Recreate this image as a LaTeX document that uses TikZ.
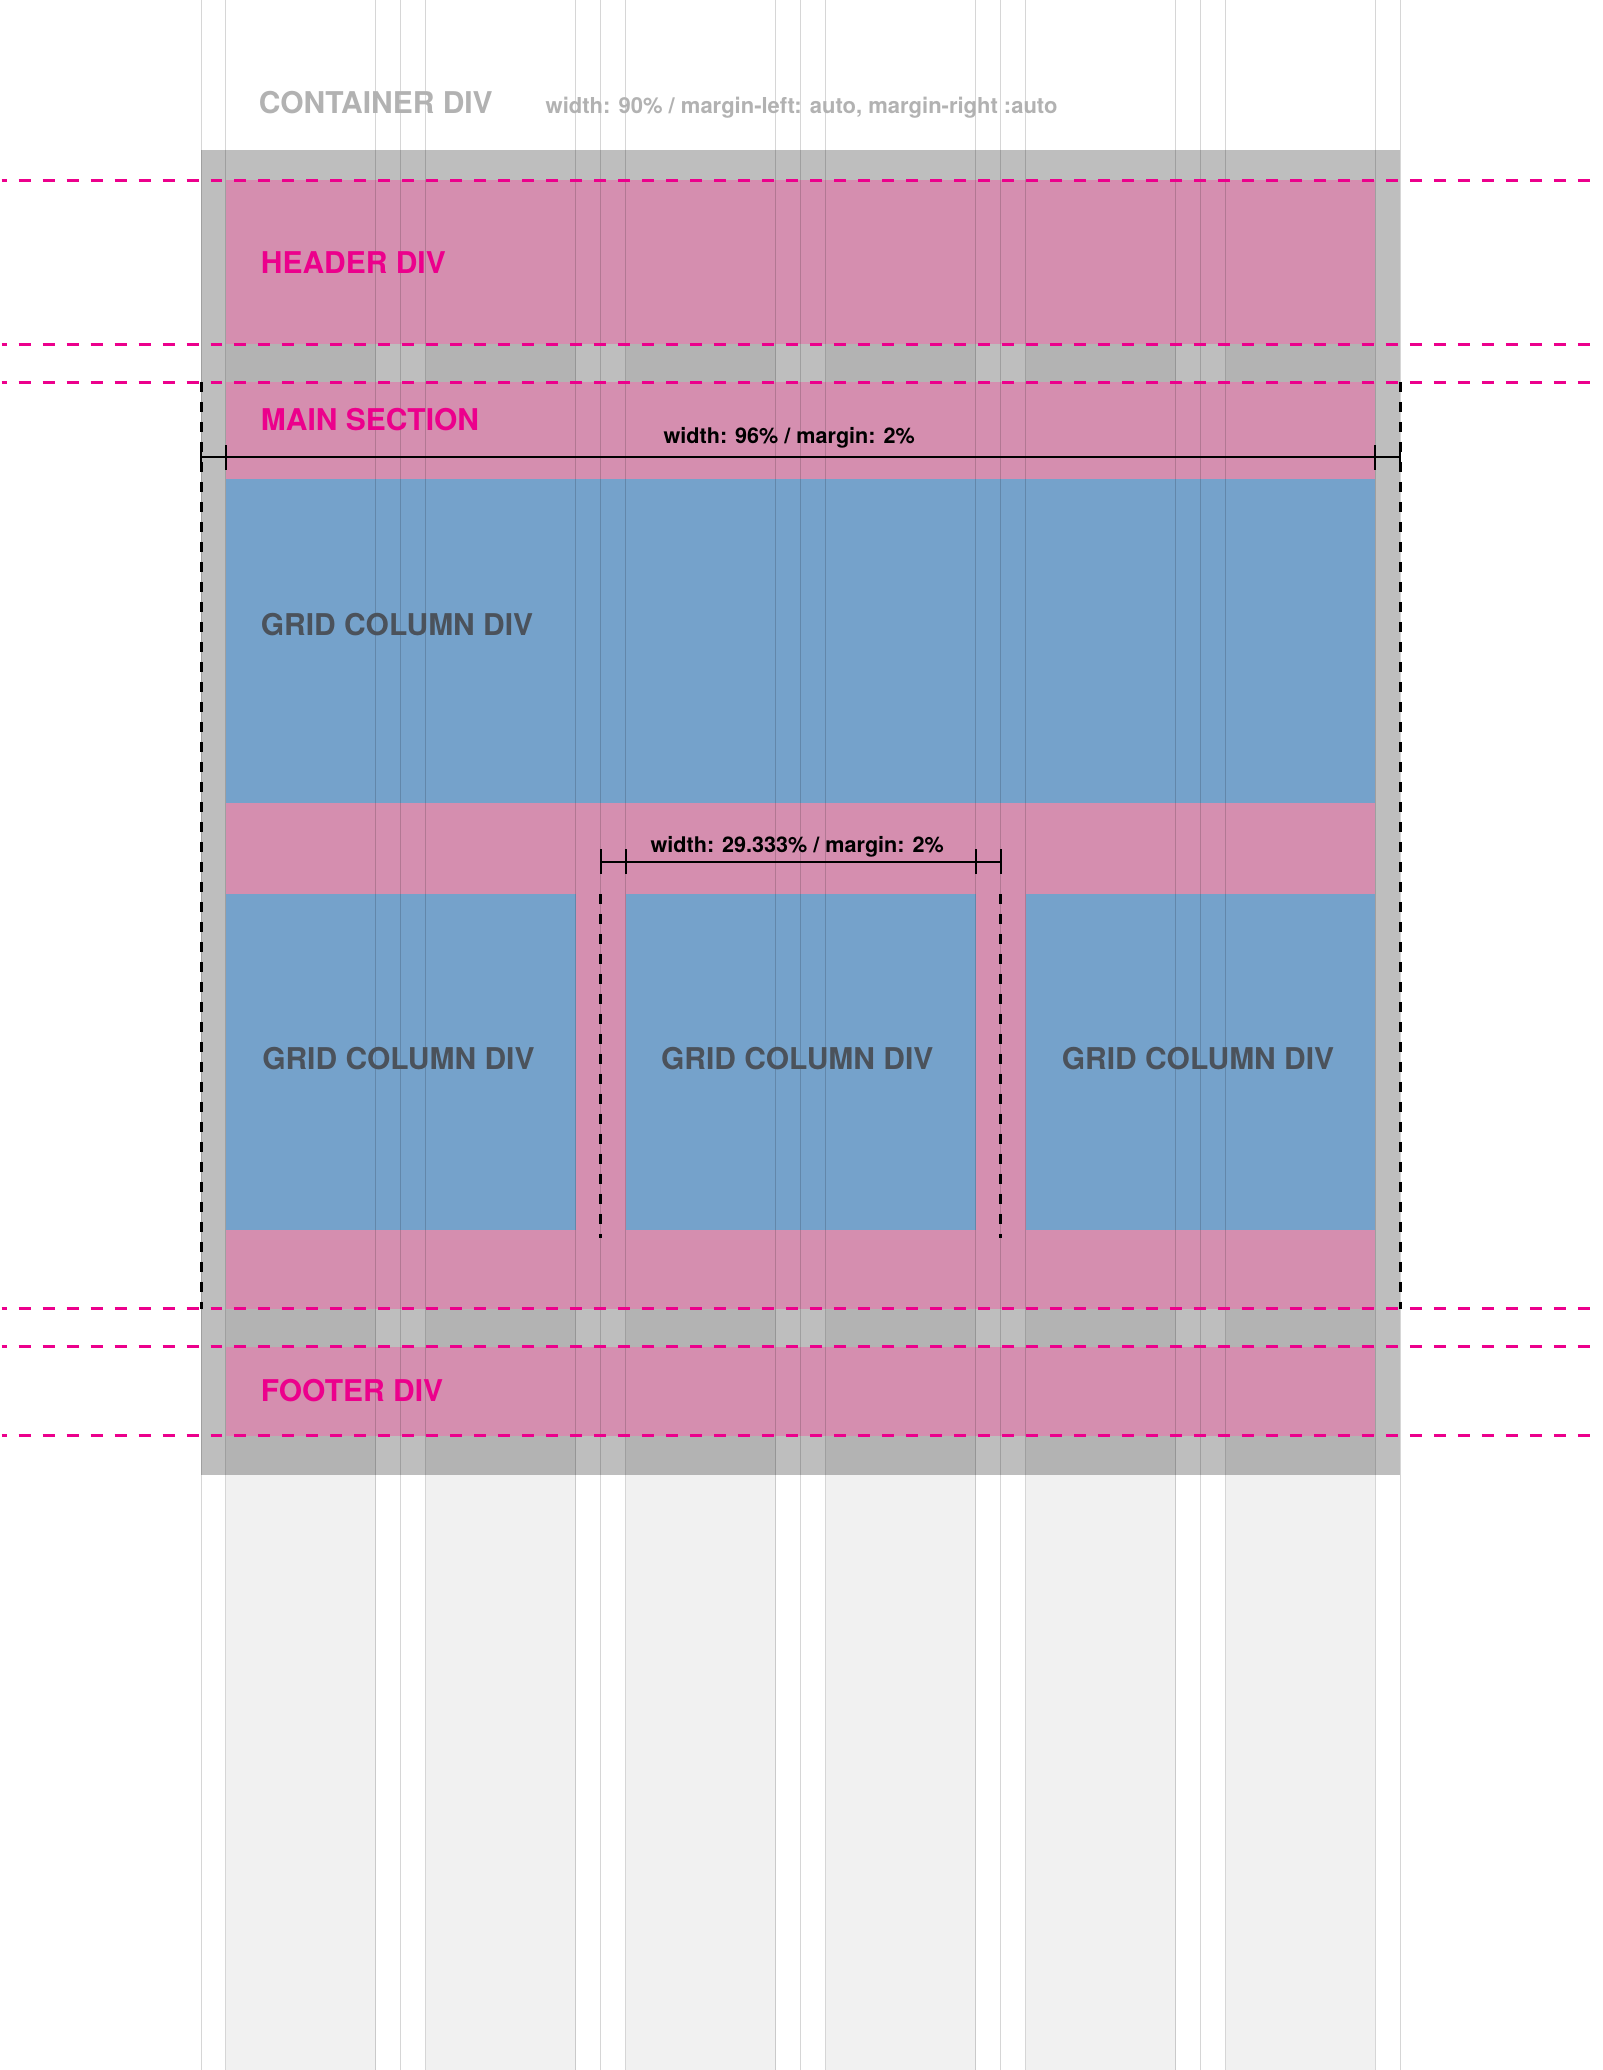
\documentclass[tikz,border=0pt]{standalone}
\usepackage{fontspec}
\setmainfont{TeX Gyre Heros}
\definecolor{contgray}{HTML}{BEBEBE}
\definecolor{divpink}{HTML}{D88BAF}
\definecolor{colblue}{HTML}{6DA4CE}
\definecolor{labelpink}{HTML}{EC008C}
\definecolor{labelgray}{HTML}{B2B2B2}
\definecolor{griddark}{HTML}{4B525B}
\begin{document}
\begin{tikzpicture}[x=0.5pt,y=-0.5pt,
 guide/.style={black,opacity=0.16,line width=0.5pt},
 colstripe/.style={fill=black,opacity=0.055},
 divbox/.style={fill=divpink,fill opacity=0.92},
 colbox/.style={fill=colblue,fill opacity=0.92},
 rowline/.style={labelpink,line width=1.6pt,dash pattern=on 6pt off 6pt,dash phase=3.5pt},
 edgeline/.style={black,line width=1.5pt,dash pattern=on 5pt off 5pt},
 dimline/.style={black,line width=1pt},
 boxlabel/.style={font=\bfseries\fontsize{15pt}{18pt}\selectfont,inner sep=0pt},
 dimlabel/.style={font=\bfseries\fontsize{10.8pt}{13pt}\selectfont,inner sep=0pt,anchor=base}]
 \fill[white](0,0) rectangle (1600,2070);
 \fill[contgray](199.5,150) rectangle (1399.5,1475);
 \fill[colstripe](224.5,180) rectangle (374.5,2070);
 \fill[colstripe](424.5,180) rectangle (574.5,2070);
 \fill[colstripe](624.5,180) rectangle (774.5,2070);
 \fill[colstripe](824.5,180) rectangle (974.5,2070);
 \fill[colstripe](1024.5,180) rectangle (1174.5,2070);
 \fill[colstripe](1224.5,180) rectangle (1374.5,2070);
 \fill[divbox](224.5,180) rectangle (1374.5,344);
 \fill[divbox](224.5,382) rectangle (1374.5,1309);
 \fill[divbox](224.5,1347) rectangle (1374.5,1436);
 \fill[colbox](224.5,479) rectangle (1374.5,803);
 \fill[colbox](224.5,894) rectangle (574.5,1230);
 \fill[colbox](624.5,894) rectangle (974.5,1230);
 \fill[colbox](1024.5,894) rectangle (1374.5,1230);
 \draw[guide](199.5,0)--(199.5,2070) (224.5,0)--(224.5,2070);
 \draw[guide](374.5,0)--(374.5,2070) (399.5,0)--(399.5,2070) (424.5,0)--(424.5,2070);
 \draw[guide](574.5,0)--(574.5,2070) (599.5,0)--(599.5,2070) (624.5,0)--(624.5,2070);
 \draw[guide](774.5,0)--(774.5,2070) (799.5,0)--(799.5,2070) (824.5,0)--(824.5,2070);
 \draw[guide](974.5,0)--(974.5,2070) (999.5,0)--(999.5,2070) (1024.5,0)--(1024.5,2070);
 \draw[guide](1174.5,0)--(1174.5,2070) (1199.5,0)--(1199.5,2070) (1224.5,0)--(1224.5,2070);
 \draw[guide](1374.5,0)--(1374.5,2070) (1399.5,0)--(1399.5,2070);
 \draw[rowline](0,180)--(1600,180);
 \draw[rowline](0,344)--(1600,344);
 \draw[rowline](0,382)--(1600,382);
 \draw[rowline](0,1309)--(1600,1309);
 \draw[rowline](0,1347)--(1600,1347);
 \draw[rowline](0,1436)--(1600,1436);
 \draw[edgeline](199.5,382)--(199.5,1309);
 \draw[edgeline](1399.5,382)--(1399.5,1309);
 \draw[edgeline](599.5,894)--(599.5,1238);
 \draw[edgeline](999.5,894)--(999.5,1238);
 \coordinate (mainleft) at (199.5,457);
 \coordinate (mainright) at (1399.5,457);
 \draw[dimline](mainleft)--(mainright);
 \draw[dimline](199.5,445)--(199.5,470);
 \draw[dimline](224.5,445)--(224.5,470);
 \draw[dimline](1374.5,445)--(1374.5,470);
 \draw[dimline](1399.5,445)--(1399.5,470);
 \coordinate (colleft) at (599.5,862);
 \coordinate (colright) at (999.5,862);
 \draw[dimline](colleft)--(colright);
 \draw[dimline](599.5,849)--(599.5,874);
 \draw[dimline](624.5,849)--(624.5,874);
 \draw[dimline](974.5,849)--(974.5,874);
 \draw[dimline](999.5,849)--(999.5,874);
 \node[boxlabel,text=labelgray,anchor=base west](contlabel) at (257,113) {CONTAINER DIV};
 \node[font=\bfseries\fontsize{11pt}{13pt}\selectfont,text=labelgray,inner sep=0pt,anchor=base west](contnote) at (544,113) {width: 90\% / margin-left: auto, margin-right :auto};
 \node[boxlabel,text=labelpink,anchor=base west](headerlabel) at (259,273) {HEADER DIV};
 \node[boxlabel,text=labelpink,anchor=base west](mainlabel) at (259,430) {MAIN SECTION};
 \node[boxlabel,text=labelpink,anchor=base west](footerlabel) at (259,1402) {FOOTER DIV};
 \node[dimlabel](mainwidth) at (788,443) {width: 96\% / margin: 2\%};
 \node[dimlabel](colwidth) at (796,852) {width: 29.333\% / margin: 2\%};
 \node[boxlabel,text=griddark,anchor=base west](gridtop) at (259,635) {GRID COLUMN DIV};
 \node[boxlabel,text=griddark,anchor=base](gridone) at (397,1070) {GRID COLUMN DIV};
 \node[boxlabel,text=griddark,anchor=base](gridtwo) at (796,1070) {GRID COLUMN DIV};
 \node[boxlabel,text=griddark,anchor=base](gridthree) at (1197,1070) {GRID COLUMN DIV};
\end{tikzpicture}
\end{document}
